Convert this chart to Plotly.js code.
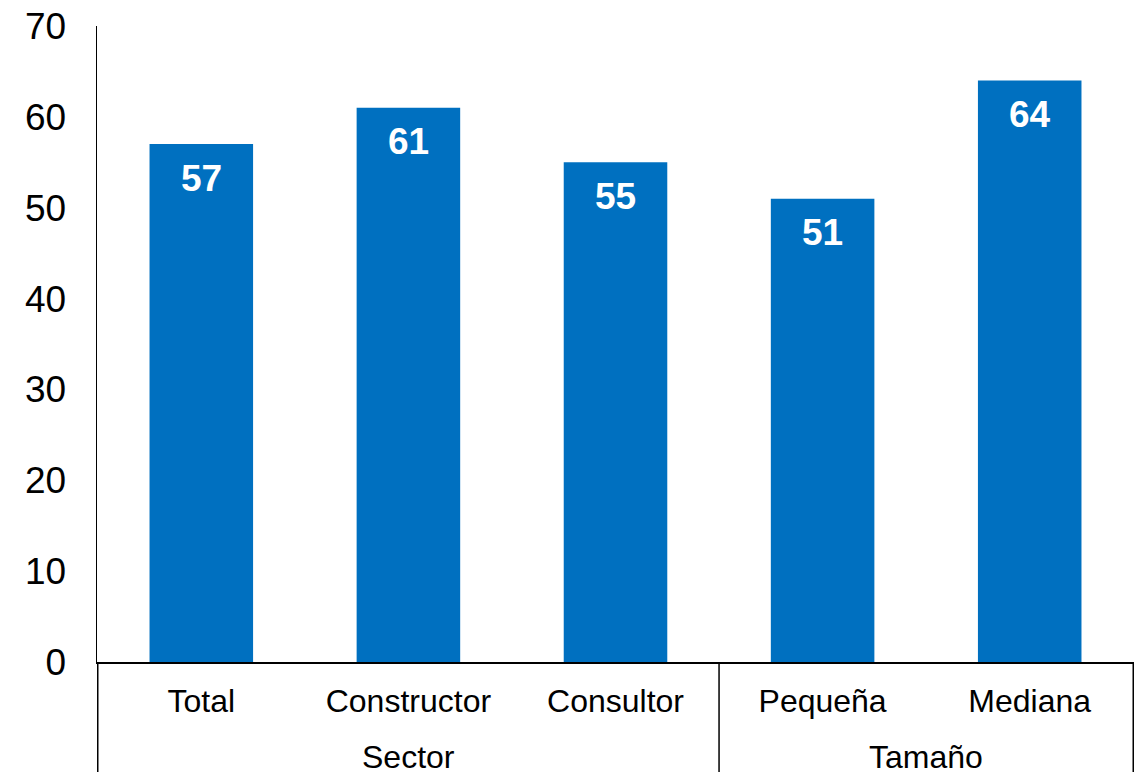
<!DOCTYPE html>
<html>
<head>
<meta charset="utf-8">
<script src="https://cdn.plot.ly/plotly-3.0.1.min.js"></script>
<style>html,body{margin:0;padding:0;background:#fff;}#chart{width:1142px;height:772px;}</style>
</head>
<body>
<div id="chart"></div>
<script>
const categories = ["Total", "Constructor", "Consultor", "Pequeña", "Mediana"];
const groups = ["Sector", "Sector", "Sector", "Tamaño", "Tamaño"];
const values = [57, 61, 55, 51, 64];
const yTicks = [0, 10, 20, 30, 40, 50, 60, 70];

const FONT = 'Liberation Sans, Arial, sans-serif';

// group spans (by category index) derived from the groups array
const groupNames = [];
const groupSpans = {};
groups.forEach((g, i) => {
  if (!(g in groupSpans)) { groupSpans[g] = [i, i]; groupNames.push(g); }
  else groupSpans[g][1] = i;
});

const trace = {
  type: 'bar',
  x: categories,
  y: values,
  marker: {color: '#0070C0', line: {width: 0}},
  hoverinfo: 'skip'
};

const annotations = [];
// value labels inside bars, near top
categories.forEach((c, i) => {
  annotations.push({
    x: c, y: values[i], xref: 'x', yref: 'y',
    text: '<b>' + values[i] + '</b>', showarrow: false,
    yanchor: 'middle', yshift: -34,
    font: {family: FONT, size: 37, color: '#ffffff'}
  });
});
// group labels (second level)
groupNames.forEach(g => {
  const [a, b] = groupSpans[g];
  annotations.push({
    x: (a + b) / 2, y: -0.149, xref: 'x', yref: 'paper',
    text: g, showarrow: false, yanchor: 'middle',
    font: {family: FONT, size: 32, color: '#000000'}
  });
});

// dividers at group boundaries
const shapes = [];
const bounds = [-0.5];
groupNames.forEach(g => bounds.push(groupSpans[g][1] + 0.5));
bounds.forEach(bx => {
  shapes.push({
    type: 'line', xref: 'x', yref: 'paper',
    x0: bx, x1: bx, y0: 0, y1: -0.18,
    line: {color: '#000000', width: 1.5}
  });
});

const layout = {
  width: 1142, height: 772,
  margin: {l: 97, r: 8, t: 26, b: 110},
  paper_bgcolor: '#ffffff', plot_bgcolor: '#ffffff',
  font: {family: FONT, color: '#000000'},
  bargap: 0.5,
  showlegend: false,
  annotations: annotations,
  shapes: shapes,
  xaxis: {
    type: 'category',
    showline: true, linecolor: '#000000', linewidth: 1.5,
    showgrid: false, ticks: '', zeroline: false,
    ticklabelstandoff: 10,
    tickfont: {size: 32, color: '#000000'}
  },
  yaxis: {
    range: [0, 70], tickvals: yTicks, ticktext: yTicks.map(String),
    showline: true, linecolor: '#000000', linewidth: 1.5,
    showgrid: false, zeroline: false, ticks: '',
    ticklabelstandoff: 22,
    tickfont: {size: 37, color: '#000000'}
  }
};

Plotly.newPlot('chart', [trace], layout, {displayModeBar: false, staticPlot: true});
</script>
</body>
</html>
